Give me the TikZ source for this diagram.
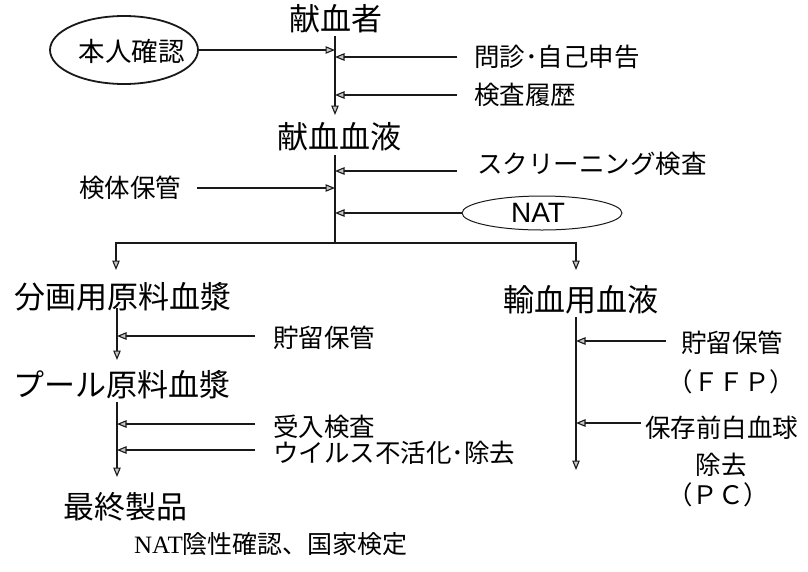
\documentclass[tikz,border=0pt]{standalone}
\usepackage{fontspec}
\setmainfont{Noto Sans CJK JP}
\newfontfamily\natsans{Liberation Sans}
\newfontfamily\natserif{Liberation Serif}
\usetikzlibrary{arrows.meta,shapes.geometric}
\begin{document}
\begin{tikzpicture}[x=1pt,y=-1pt,
  mainlbl/.style={inner sep=0pt, font=\fontsize{31}{31}\selectfont},
  sidelbl/.style={inner sep=0pt, font=\fontsize{25.5}{25.5}\selectfont},
  ln/.style={line width=1.1pt, draw=black!90},
  arr/.style={ln, -{Triangle[length=9.5pt,width=7.5pt,fill=gray!45]}},
  oval/.style={ellipse, draw=black!90, inner sep=0pt}]
\useasboundingbox (0,0) rectangle (808,571);

% main nodes
\node[mainlbl] (donor) at (335.5,18.5) {献血者};
\node[mainlbl] (blood) at (339.5,137) {献血血液};
\node[mainlbl] (frac) at (123,297) {分画用原料血漿};
\node[mainlbl] (pool) at (121.5,385) {プール原料血漿};
\node[mainlbl] (final) at (125,507) {最終製品};
\node[mainlbl] (transf) at (581,300) {輸血用血液};
\node[inner sep=0pt, font=\fontsize{25}{25}\selectfont] (natnote) at (271,544) {{\natserif NAT}陰性確認、国家検定};

% ovals
\node[oval, line width=1.8pt, minimum width=148pt, minimum height=68pt] (ident) at (124,50) {};
\node[sidelbl, font=\fontsize{26.5}{26.5}\selectfont] (identtxt) at (131.5,51.5) {本人確認};
\node[oval, line width=1pt, minimum width=160pt, minimum height=34pt] (nat) at (542,213) {};
\node[inner sep=0pt, font=\natsans\fontsize{28}{28}\selectfont] (nattxt) at (538,213) {NAT};

% side labels
\node[sidelbl, anchor=west] (q1) at (474,57) {問診･自己申告};
\node[sidelbl, anchor=west] (q2) at (474,95) {検査履歴};
\node[sidelbl, anchor=west] (scr) at (477,164) {スクリーニング検査};
\node[sidelbl, anchor=west] (kentai) at (79,188) {検体保管};
\node[sidelbl, anchor=west] (store1) at (273,338) {貯留保管};
\node[sidelbl, anchor=west] (accept) at (273,427) {受入検査};
\node[sidelbl, anchor=west] (virus) at (273,453) {ウイルス不活化･除去};
\node[sidelbl, anchor=west] (store2) at (681,343) {貯留保管};
\node[sidelbl] (ffp) at (731.5,382) {（ＦＦＰ）};
\node[sidelbl, anchor=west] (leuko) at (645,428) {保存前白血球};
\node[sidelbl] (leuko2) at (721,465) {除去};
\node[sidelbl] (pc) at (718,495) {（ＰＣ）};

% main line coordinates
\coordinate (a0) at (335,36);
\coordinate (a1) at (335,115);
\coordinate (b0) at (335,155);
\coordinate (j) at (335,243);
\coordinate (l1) at (116,270);
\coordinate (r1) at (576,270);
\coordinate (f0) at (117,308);
\coordinate (f1) at (117,360);
\coordinate (p0) at (117,402);
\coordinate (p1) at (117,477);
\coordinate (t0) at (576,317);
\coordinate (t1) at (576,470);

% arrow start coordinates
\coordinate (sq1) at (457,57);
\coordinate (sq2) at (457,95);
\coordinate (sscr) at (457,171);
\coordinate (skentai) at (197,188);
\coordinate (sstore1) at (255,336);
\coordinate (saccept) at (255,424);
\coordinate (svirus) at (255,450);
\coordinate (sstore2) at (666,341);
\coordinate (sleuko) at (641,423);

% main flow
\draw[arr] (a0) -- (a1);
\draw[ln] (b0) -- (j);
\draw[arr] (j) -| (l1);
\draw[arr] (j) -| (r1);
\draw[arr] (f0) -- (f1);
\draw[arr] (p0) -- (p1);
\draw[arr] (t0) -- (t1);

% side inputs
\draw[arr] (ident.east) -- (ident.east -| a0);
\draw[arr] (sq1) -- (sq1 -| a0);
\draw[arr] (sq2) -- (sq2 -| a0);
\draw[arr] (sscr) -- (sscr -| b0);
\draw[arr] (skentai) -- (skentai -| b0);
\draw[arr] (nat.west) -- (nat.west -| b0);
\draw[arr] (sstore1) -- (sstore1 -| f0);
\draw[arr] (saccept) -- (saccept -| p0);
\draw[arr] (svirus) -- (svirus -| p0);
\draw[arr] (sstore2) -- (sstore2 -| t0);
\draw[arr] (sleuko) -- (sleuko -| t0);
\end{tikzpicture}
\end{document}
